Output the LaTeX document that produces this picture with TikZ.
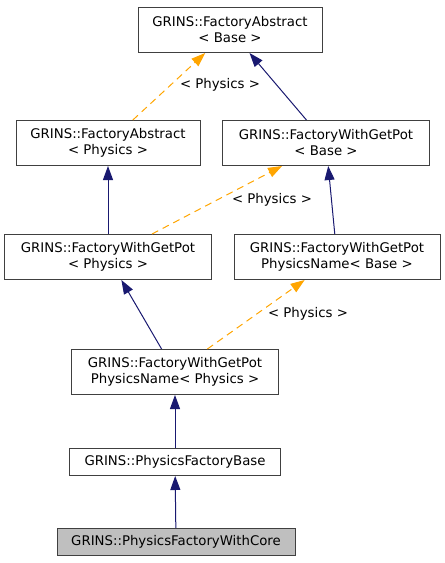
\documentclass[tikz,border=0pt]{standalone}
\usepackage{fontspec}
\setmainfont{DejaVu Sans}
\usepackage{tikz}
\usetikzlibrary{arrows.meta}
\usepackage{xcolor}
\definecolor{edgeblue}{HTML}{191970}
\definecolor{edgeorange}{HTML}{FFA500}
\definecolor{boxline}{HTML}{404040}
\tikzset{
  classbox/.style = {draw=boxline, fill=white, align=center, inner sep=0pt,
    line width=1pt, font=\fontsize{13.3}{16}\selectfont, minimum height=45pt},% classe, deux lignes
  classone/.style = {classbox, minimum height=27pt},% classe, une ligne
  classme/.style = {classone, fill=gray!50},% classe documentee
  inherit/.style = {edgeblue, line width=1pt,
    -{Triangle[length=14pt,width=10pt]}},% heritage
  templ/.style = {edgeorange, line width=1pt, dash pattern=on 7pt off 5pt,
    -{Triangle[length=14pt,width=10pt]}},% instanciation
  templabel/.style = {font=\fontsize{13.3}{16}\selectfont, inner sep=0pt}
}

\begin{document}
\begin{tikzpicture}[x=1pt,y=-1pt]
\useasboundingbox (0,0) rectangle (445,563);
\node [classbox, minimum width=184pt] (fab) at (230,30) {GRINS::FactoryAbstract\\< Base >};
\node [classbox, minimum width=184pt] (fap) at (108,143) {GRINS::FactoryAbstract\\< Physics >};
\node [classbox, minimum width=207pt] (fgb) at (326,143) {GRINS::FactoryWithGetPot\\< Base >};
\node [classbox, minimum width=207pt] (fgp) at (108,257) {GRINS::FactoryWithGetPot\\< Physics >};
\node [classbox, minimum width=206pt] (fnb) at (337,257) {GRINS::FactoryWithGetPot\\PhysicsName< Base >};
\node [classbox, minimum width=207pt] (fnp) at (175,372) {GRINS::FactoryWithGetPot\\PhysicsName< Physics >};
\node [classone, minimum width=211pt] (pfb) at (175,462) {GRINS::PhysicsFactoryBase};
\node [classme, minimum width=238pt] (pfc) at (176,542) {GRINS::PhysicsFactoryWithCore};

\draw [templ] (fap) -- (fab);
\draw [inherit] (fgb) -- (fab);
\draw [inherit] (fgp) -- (fap);
\draw [templ] (fgp) -- (fgb);
\draw [inherit] (fnb) -- (fgb);
\draw [inherit] (fnp) -- (fgp);
\draw [templ] (fnp) -- (fnb);
\draw [inherit] (pfb) -- (fnp);
\draw [inherit] (pfc) -- (pfb);

\node [templabel] (l1) at (220,85) {< Physics >};
\node [templabel] (l2) at (272,200) {< Physics >};
\node [templabel] (l3) at (308,314) {< Physics >};
\end{tikzpicture}
\end{document}
